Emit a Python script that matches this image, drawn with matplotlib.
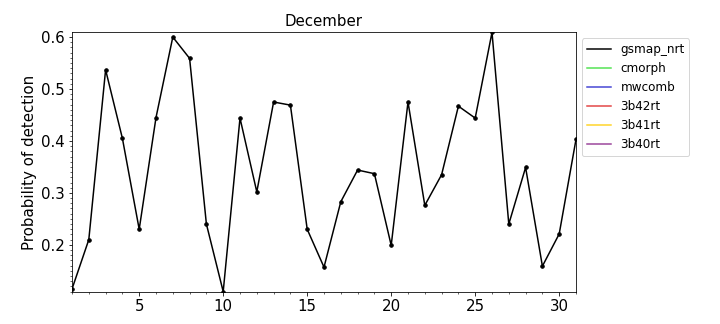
import matplotlib
matplotlib.use("Agg")
import matplotlib.pyplot as plt
from matplotlib.ticker import MultipleLocator

days = list(range(1, 32))
gsmap_nrt = [0.115, 0.210, 0.537, 0.405, 0.230, 0.445, 0.600, 0.559, 0.240, 0.110,
             0.444, 0.302, 0.475, 0.469, 0.230, 0.157, 0.283, 0.344, 0.337, 0.199,
             0.475, 0.276, 0.335, 0.467, 0.444, 0.609, 0.240, 0.349, 0.159, 0.221,
             0.403]
products = ["gsmap_nrt", "cmorph", "mwcomb", "3b42rt", "3b41rt", "3b40rt"]
colors = ["black", "#33dd33", "#2222cc", "#dd2222", "#ffcc00", "#882288"]

fig, ax = plt.subplots(figsize=(10, 4.5), dpi=72)
fig.subplots_adjust(left=0.1, right=0.8, top=0.9, bottom=0.1)

ax.plot(days, gsmap_nrt, color=colors[0], lw=1.5, label=products[0])
ax.plot(days, gsmap_nrt, ls="none", color=colors[0], marker="o", ms=3.5)
# other products have no data for this month, only legend entries
for name, c in zip(products[1:], colors[1:]):
    ax.plot([], [], color=c, lw=1.5, alpha=0.85, label=name)

ax.set_xlim(1, 31)
ax.set_ylim(0.110, 0.609)
ax.xaxis.set_major_locator(MultipleLocator(5))
ax.xaxis.set_minor_locator(MultipleLocator(1))
ax.yaxis.set_major_locator(MultipleLocator(0.1))
ax.yaxis.set_minor_locator(MultipleLocator(0.01))
ax.tick_params(labelsize=15)
ax.set_ylabel("Probability of detection", fontsize=15)
ax.set_title("December", fontsize=15)
ax.legend(loc="upper left", bbox_to_anchor=(1.0, 1.0), fontsize=12)

fig.savefig("out.png", dpi=72)
